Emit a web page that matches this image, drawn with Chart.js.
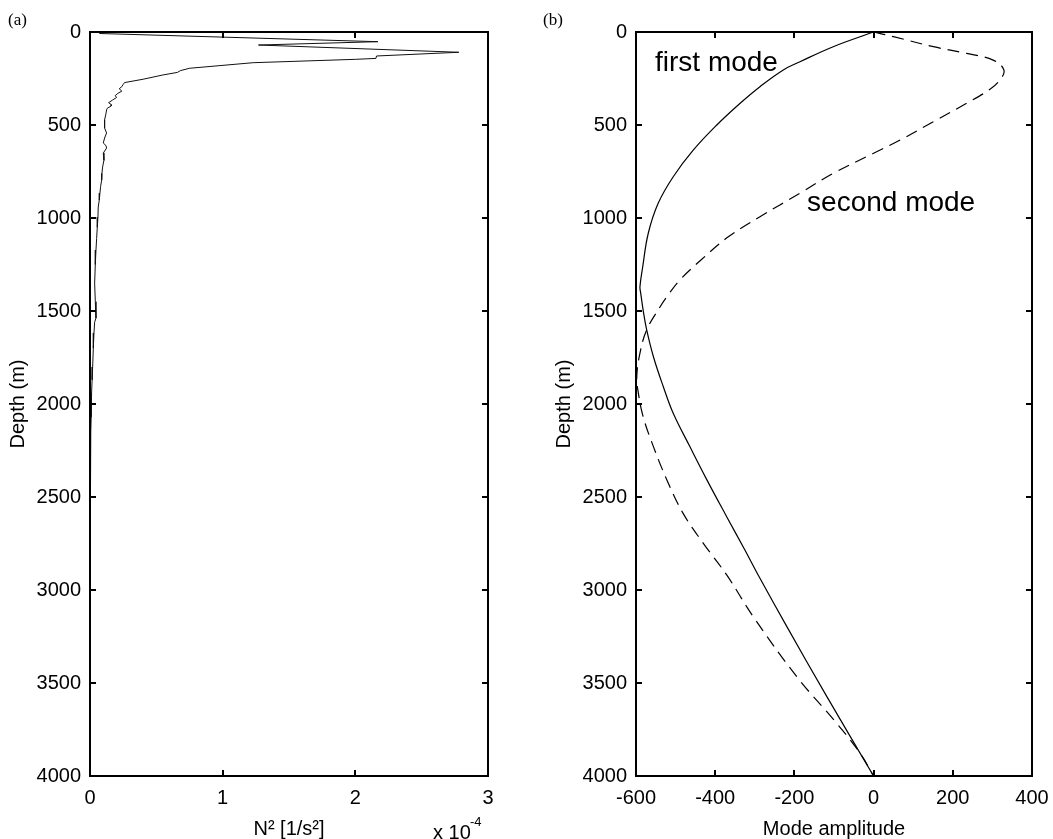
<!DOCTYPE html>
<html>
<head>
<meta charset="utf-8">
<script src="https://cdn.jsdelivr.net/npm/chart.js@4/dist/chart.umd.min.js"></script>
<style>
  html, body { margin: 0; padding: 0; background: #fff; }
  #wrap { position: relative; width: 1053px; height: 839px; overflow: hidden; }
  canvas { position: absolute; top: 0; }
  #cA { left: 0; }
  #cB { left: 530px; }
</style>
</head>
<body>
<div id="wrap">
  <canvas id="cA" width="520" height="839"></canvas>
  <canvas id="cB" width="523" height="839"></canvas>
</div>
<script>
// (a) buoyancy frequency profile, N^2 in units of 1e-4 1/s^2
var depthA = [8, 52, 70, 109, 129, 142, 147, 165, 195, 208,
  217, 231, 254, 272, 282, 294, 305, 318, 330, 342,
  352, 366, 380, 390, 398, 410, 419, 440, 473, 495,
  516, 543, 570, 597, 610, 624, 651, 690, 726, 760,
  796, 830, 866, 903, 941, 995, 1050, 1110, 1172, 1250,
  1350, 1450, 1538, 1560, 1618, 1700, 1801, 1870, 1941, 2000,
  2070, 2150, 2247, 2330, 2425, 2520, 2600, 2650, 2700, 2720];
var n2A = [0.07, 2.17, 1.27, 2.78, 2.16, 2.155, 2.0, 1.23, 0.75, 0.68,
  0.66, 0.55, 0.40, 0.26, 0.25, 0.24, 0.22, 0.24, 0.21, 0.19,
  0.20, 0.17, 0.14, 0.16, 0.16, 0.13, 0.125, 0.12, 0.11, 0.11,
  0.11, 0.125, 0.11, 0.10, 0.12, 0.125, 0.10, 0.105, 0.095, 0.09,
  0.088, 0.08, 0.075, 0.07, 0.062, 0.06, 0.055, 0.05, 0.045, 0.04,
  0.035, 0.04, 0.045, 0.035, 0.03, 0.025, 0.02, 0.016, 0.012, 0.01,
  0.008, 0.006, 0.003, 0.003, 0.002, 0.002, 0.001, 0.002, 0.001, 0.001];

// (b) vertical mode shapes
var depthB1 = [0, 79, 160, 204, 294, 383, 500, 634, 778, 921, 1082, 1262, 1370, 1405, 1495,
  1602, 1746, 1907, 2050, 2229, 2408, 2606, 2785, 2937, 3197, 3573, 4000];
var mode1 = [0, -102, -186, -228, -287, -337, -396, -455, -506, -544, -569, -583, -590, -588, -582,
  -573, -556, -531, -506, -464, -421, -371, -325, -287, -219, -118, 0];
var depthB2 = [0, 25, 79, 115, 151, 204, 258, 308, 383, 482, 581, 652, 760, 867, 993, 1100,
  1226, 1333, 1423, 1477, 1602, 1727, 1853, 1942, 2068, 2229, 2408, 2588, 2749, 2919,
  3143, 3466, 3717, 3878, 4000];
var mode2 = [0, 50, 151, 235, 302, 329, 319, 294, 235, 151, 67, 0, -102, -186, -287, -366,
  -436, -489, -522, -539, -573, -590, -598, -594, -582, -556, -522, -481, -430, -371,
  -304, -194, -93, -34, 0];

var depthTicks = [0, 500, 1000, 1500, 2000, 2500, 3000, 3500, 4000];
var n2Ticks = [0, 1, 2, 3];
var ampTicks = [-600, -400, -200, 0, 200, 400];

var FONT = "'Liberation Sans', Arial, Helvetica, sans-serif";

function pts(xs, ys) {
  return xs.map(function (x, i) { return { x: x, y: ys[i] }; });
}

function fixedTicks(values) {
  return function (scale) {
    scale.ticks = values.map(function (v) { return { value: v }; });
  };
}

// MATLAB-like box with inward ticks on all four sides
var boxPlugin = {
  id: 'box',
  afterDraw: function (chart) {
    var ctx = chart.ctx, a = chart.chartArea;
    var xs = chart.scales.x, ys = chart.scales.y, tl = 6;
    ctx.save();
    ctx.strokeStyle = '#000';
    ctx.lineWidth = 2;
    ctx.strokeRect(a.left, a.top, a.right - a.left, a.bottom - a.top);
    ctx.beginPath();
    xs.ticks.forEach(function (t) {
      var px = Math.round(xs.getPixelForValue(t.value));
      ctx.moveTo(px, a.bottom); ctx.lineTo(px, a.bottom - tl);
      ctx.moveTo(px, a.top); ctx.lineTo(px, a.top + tl);
    });
    ys.ticks.forEach(function (t) {
      var py = Math.round(ys.getPixelForValue(t.value));
      ctx.moveTo(a.left, py); ctx.lineTo(a.left + tl, py);
      ctx.moveTo(a.right, py); ctx.lineTo(a.right - tl, py);
    });
    ctx.stroke();
    // panel letter and extra text
    var o = chart.options.plugins.box;
    ctx.fillStyle = '#000';
    ctx.textBaseline = 'alphabetic';
    ctx.font = "17px 'Liberation Serif', 'DejaVu Serif', serif";
    ctx.fillText(o.letter, o.letterX, 25);
    (o.notes || []).forEach(function (n) {
      ctx.font = n.size + 'px ' + FONT;
      ctx.fillText(n.text, xs.getPixelForValue(n.x), ys.getPixelForValue(n.y));
    });
    if (o.exponent) {
      ctx.font = '20px ' + FONT;
      ctx.fillText('x 10', 433, 839);
      ctx.font = '13px ' + FONT;
      ctx.fillText('-4', 470, 826);
    }
    ctx.restore();
  }
};

function makeOpts(xMin, xMax, xTicks, xTitle, padRight, yWidth, titlePad, box) {
  return {
    responsive: false,
    animation: false,
    devicePixelRatio: 1,
    layout: { padding: { top: 32, left: 0, right: padRight, bottom: 0 } },
    plugins: { legend: { display: false }, tooltip: { enabled: false }, box: box },
    elements: { point: { radius: 0 } },
    scales: {
      x: {
        type: 'linear', min: xMin, max: xMax,
        border: { display: false },
        grid: { display: false, drawTicks: false },
        afterBuildTicks: fixedTicks(xTicks),
        ticks: { color: '#000', padding: 10, maxRotation: 0, autoSkip: false,
                 font: { family: FONT, size: 20 },
                 callback: function (v) { return String(v); } },
        title: { display: true, text: xTitle, color: '#000',
                 font: { family: FONT, size: 20, lineHeight: 1 }, padding: { top: 0, bottom: 0 } },
        afterFit: function (s) { s.height = 63; s.paddingLeft = 0; s.paddingRight = 0; }
      },
      y: {
        type: 'linear', reverse: true, min: 0, max: 4000,
        border: { display: false },
        grid: { display: false, drawTicks: false },
        afterBuildTicks: fixedTicks(depthTicks),
        ticks: { color: '#000', padding: 9, autoSkip: false,
                 font: { family: FONT, size: 20 },
                 callback: function (v) { return String(v); } },
        title: { display: true, text: 'Depth (m)', color: '#000',
                 font: { family: FONT, size: 20, lineHeight: 1.2 }, padding: { top: titlePad, bottom: 0 } },
        afterFit: function (s) { s.width = yWidth; s.paddingTop = 0; s.paddingBottom = 0; }
      }
    }
  };
}

new Chart(document.getElementById('cA'), {
  type: 'scatter',
  data: {
    datasets: [{
      data: pts(n2A, depthA), showLine: true,
      borderColor: '#111', borderWidth: 1, pointRadius: 0, tension: 0
    }]
  },
  options: makeOpts(0, 3, n2Ticks, 'N\u00b2 [1/s\u00b2]', 32, 90, 6,
    { letter: '(a)', letterX: 8, exponent: true }),
  plugins: [boxPlugin]
});

new Chart(document.getElementById('cB'), {
  type: 'scatter',
  data: {
    datasets: [{
      data: pts(mode1, depthB1), showLine: true,
      borderColor: '#000', borderWidth: 1.2, pointRadius: 0, tension: 0.4
    }, {
      data: pts(mode2, depthB2), showLine: true, borderDash: [12, 7],
      borderColor: '#000', borderWidth: 1.2, pointRadius: 0, tension: 0.4
    }]
  },
  options: makeOpts(-600, 400, ampTicks, 'Mode amplitude', 21, 106, 22,
    { letter: '(b)', letterX: 13,
      notes: [{ text: 'first mode', x: -552, y: 210, size: 28 },
              { text: 'second mode', x: -168, y: 962, size: 28 }] }),
  plugins: [boxPlugin]
});
</script>
</body>
</html>
